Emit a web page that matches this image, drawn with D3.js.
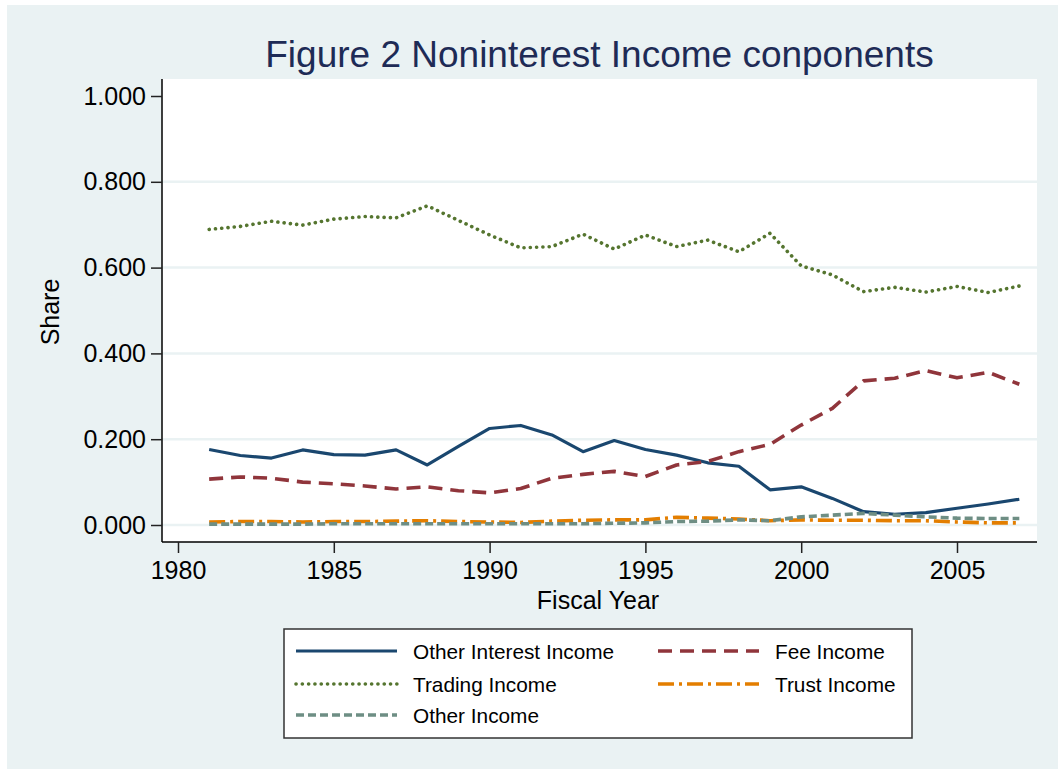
<!DOCTYPE html>
<html>
<head>
<meta charset="utf-8">
<script src="https://cdn.jsdelivr.net/npm/d3@7"></script>
<style>
  html, body { margin: 0; padding: 0; background: #ffffff; }
  svg { display: block; font-family: "Liberation Sans", Arial, sans-serif; }
</style>
</head>
<body>
<svg id="chart" width="1058" height="769"></svg>
<script>
// Fiscal years and share of noninterest income by component
const years = d3.range(1981, 2008);

const otherInterestIncome = [0.176, 0.162, 0.156, 0.175, 0.164, 0.163, 0.175, 0.140, 0.183,
  0.225, 0.232, 0.210, 0.171, 0.197, 0.176, 0.163, 0.145, 0.137, 0.082, 0.089,
  0.062, 0.031, 0.025, 0.029, 0.039, 0.049, 0.060];

const feeIncome = [0.107, 0.112, 0.109, 0.100, 0.096, 0.091, 0.084, 0.089, 0.080,
  0.075, 0.085, 0.109, 0.118, 0.125, 0.113, 0.140, 0.148, 0.171, 0.188, 0.233,
  0.272, 0.336, 0.342, 0.360, 0.343, 0.356, 0.328];

const tradingIncome = [0.689, 0.696, 0.708, 0.699, 0.713, 0.719, 0.716, 0.744, 0.710,
  0.676, 0.646, 0.649, 0.678, 0.643, 0.676, 0.649, 0.664, 0.637, 0.680, 0.604,
  0.583, 0.544, 0.554, 0.543, 0.556, 0.542, 0.557];

const trustIncome = [0.007, 0.008, 0.008, 0.007, 0.008, 0.008, 0.009, 0.010, 0.008,
  0.007, 0.006, 0.009, 0.011, 0.012, 0.012, 0.018, 0.016, 0.014, 0.010, 0.012,
  0.011, 0.011, 0.010, 0.010, 0.007, 0.005, 0.005];

const otherIncome = [0.002, 0.002, 0.002, 0.002, 0.003, 0.003, 0.003, 0.003, 0.003,
  0.003, 0.003, 0.003, 0.003, 0.004, 0.005, 0.008, 0.009, 0.012, 0.010, 0.019,
  0.023, 0.027, 0.023, 0.019, 0.016, 0.015, 0.015];

const yTicks = [0, 0.2, 0.4, 0.6, 0.8, 1.0];
const gridTicks = [0, 0.2, 0.4, 0.6, 0.8];
const xTicks = [1980, 1985, 1990, 1995, 2000, 2005];

const series = [
  { name: "Other Interest Income", values: otherInterestIncome, color: "#1a476f", dash: null, cap: "butt", width: 3.2 },
  { name: "Fee Income", values: feeIncome, color: "#90353b", dash: "14,8", cap: "butt", width: 3.6 },
  { name: "Trading Income", values: tradingIncome, color: "#55752f", dash: "0.1,6.2", cap: "round", width: 3.6 },
  { name: "Trust Income", values: trustIncome, color: "#e37e00", dash: "16,5,3,5", cap: "butt", width: 3.6 },
  { name: "Other Income", values: otherIncome, color: "#6e8e84", dash: "8,4", cap: "butt", width: 3.6 }
];

const svg = d3.select("#chart");
const bg = "#eaf2f3";

// outer graph region
svg.append("rect").attr("x", 7).attr("y", 5).attr("width", 1051).attr("height", 764).attr("fill", bg);

const plot = { left: 162, right: 1037, top: 79, bottom: 542 };
svg.append("rect")
  .attr("x", plot.left).attr("y", plot.top)
  .attr("width", plot.right - plot.left).attr("height", plot.bottom - plot.top)
  .attr("fill", "#ffffff");

const x = d3.scaleLinear().domain([1980, 2005]).range([178, 957]);
const y = d3.scaleLinear().domain([0, 1]).range([525, 96]);

// horizontal grid lines
svg.append("g").selectAll("line").data(gridTicks).join("line")
  .attr("x1", plot.left).attr("x2", plot.right)
  .attr("y1", d => y(d)).attr("y2", d => y(d))
  .attr("stroke", bg).attr("stroke-width", 2.5);

// y axis
const yAxis = svg.append("g").attr("transform", `translate(${plot.left},0)`)
  .call(d3.axisLeft(y).tickValues(yTicks).tickFormat(d3.format(".3f")).tickSize(11).tickPadding(5));
yAxis.select(".domain").attr("d", `M0,${plot.top}V${plot.bottom}`).attr("stroke", "#000").attr("stroke-width", 1.5);
yAxis.selectAll(".tick line").attr("stroke", "#222").attr("stroke-width", 1.5);
yAxis.selectAll(".tick text").attr("font-size", 25).attr("fill", "#000")
  .attr("font-family", "Liberation Sans, Arial, sans-serif");

// x axis
const xAxis = svg.append("g").attr("transform", `translate(0,${plot.bottom})`)
  .call(d3.axisBottom(x).tickValues(xTicks).tickFormat(d3.format("d")).tickSize(11).tickPadding(8));
xAxis.select(".domain").attr("d", `M${plot.left},0H${plot.right}`).attr("stroke", "#000").attr("stroke-width", 1.5);
xAxis.selectAll(".tick line").attr("stroke", "#222").attr("stroke-width", 1.5);
xAxis.selectAll(".tick text").attr("font-size", 25).attr("fill", "#000")
  .attr("font-family", "Liberation Sans, Arial, sans-serif");

// series lines
const line = d3.line().x((d, i) => x(years[i])).y(d => y(d));
svg.append("g").selectAll("path").data(series).join("path")
  .attr("d", s => line(s.values))
  .attr("fill", "none")
  .attr("stroke", s => s.color)
  .attr("stroke-width", s => s.width)
  .attr("stroke-dasharray", s => s.dash)
  .attr("stroke-linecap", s => s.cap)
  .attr("stroke-linejoin", "round");

// titles
svg.append("text").attr("x", (plot.left + plot.right) / 2).attr("y", 67)
  .attr("text-anchor", "middle").attr("font-size", 37).attr("fill", "#1e2b56")
  .text("Figure 2 Noninterest Income conponents");

svg.append("text").attr("x", 598).attr("y", 609)
  .attr("text-anchor", "middle").attr("font-size", 25).attr("fill", "#000")
  .text("Fiscal Year");

svg.append("text").attr("transform", "translate(59,312) rotate(-90)")
  .attr("text-anchor", "middle").attr("font-size", 25).attr("fill", "#000")
  .text("Share");

// legend
const legend = svg.append("g");
legend.append("rect").attr("x", 284).attr("y", 629).attr("width", 628).attr("height", 109)
  .attr("fill", "#ffffff").attr("stroke", "#333").attr("stroke-width", 1.5);

const legendPos = [
  { lx: 296, rowY: 651 }, { lx: 658, rowY: 651 },
  { lx: 296, rowY: 684 }, { lx: 658, rowY: 684 },
  { lx: 296, rowY: 715 }
];
const items = legend.selectAll("g.item").data(series).join("g").attr("class", "item")
  .attr("transform", (d, i) => `translate(${legendPos[i].lx},${legendPos[i].rowY})`);
items.append("line").attr("x1", 0).attr("x2", 101).attr("y1", 0).attr("y2", 0)
  .attr("stroke", s => s.color).attr("stroke-width", s => s.width)
  .attr("stroke-dasharray", s => s.dash).attr("stroke-linecap", s => s.cap);
items.append("text").attr("x", 117).attr("y", 0).attr("dy", "0.36em")
  .attr("font-size", 20.8).attr("fill", "#000").text(s => s.name);
</script>
</body>
</html>
